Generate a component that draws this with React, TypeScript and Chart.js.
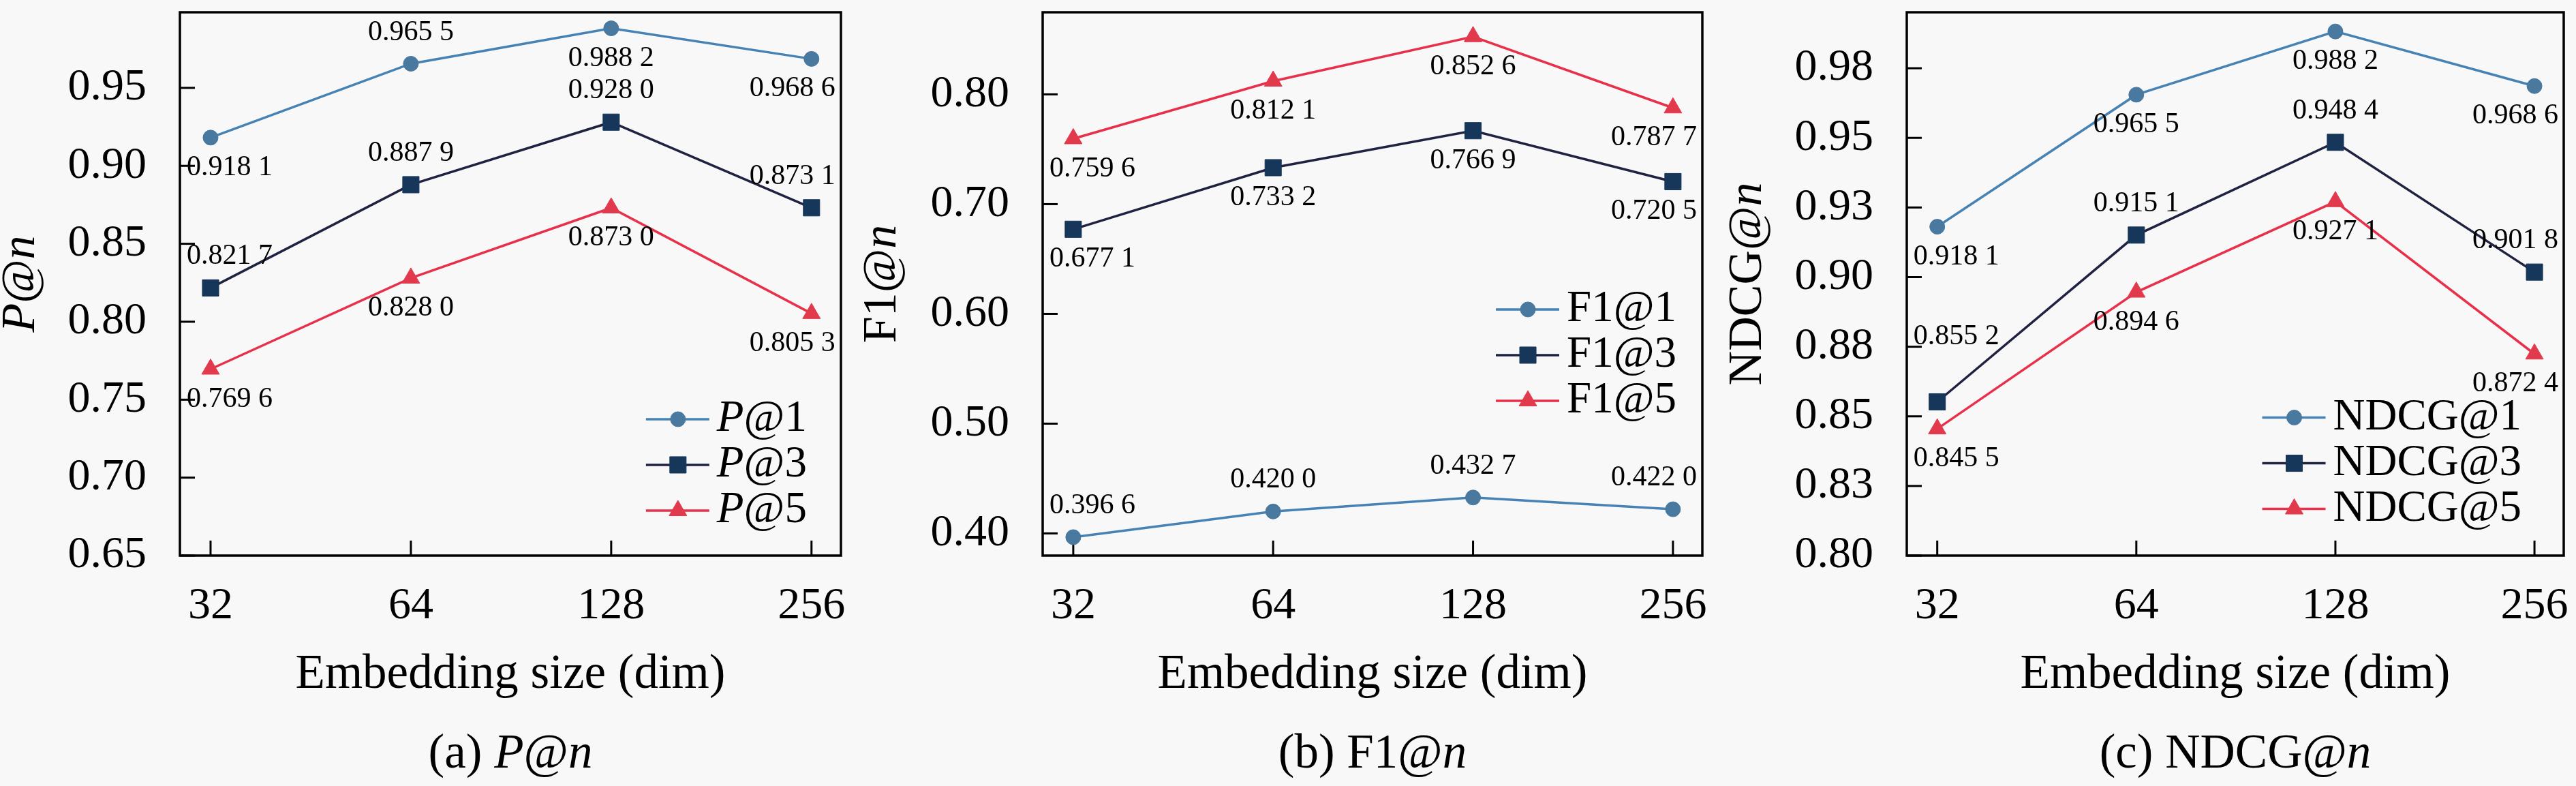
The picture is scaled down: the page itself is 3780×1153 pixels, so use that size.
import { useEffect, useRef } from "react";
import Chart from "chart.js/auto";
import { drawPoint } from "chart.js/helpers";

const dims = ["32", "64", "128", "256"];

// (a) P@n
const pAt1 = [0.9181, 0.9655, 0.9882, 0.9686];
const pAt3 = [0.8217, 0.8879, 0.928, 0.8731];
const pAt5 = [0.7696, 0.828, 0.873, 0.8053];
const pTicks = [0.65, 0.7, 0.75, 0.8, 0.85, 0.9, 0.95];

// (b) F1@n
const f1At1 = [0.3966, 0.42, 0.4327, 0.422];
const f1At3 = [0.6771, 0.7332, 0.7669, 0.7205];
const f1At5 = [0.7596, 0.8121, 0.8526, 0.7877];
const f1Ticks = [0.4, 0.5, 0.6, 0.7, 0.8];

// (c) NDCG@n
const ndcgAt1 = [0.9181, 0.9655, 0.9882, 0.9686];
const ndcgAt3 = [0.8552, 0.9151, 0.9484, 0.9018];
const ndcgAt5 = [0.8455, 0.8946, 0.9271, 0.8724];
const ndcgTicks = [0.8, 0.825, 0.85, 0.875, 0.9, 0.925, 0.95, 0.975];
const ndcgTickLabels = ["0.80", "0.83", "0.85", "0.88", "0.90", "0.93", "0.95", "0.98"];

// where each value label sits: a = above, b = below, A = well above
const pPlace = [["b", "a", "b", "b"], ["a", "a", "a", "a"], ["b", "b", "b", "b"]];
const f1Place = [["a", "a", "a", "a"], ["b", "b", "b", "b"], ["b", "b", "b", "b"]];
const ndcgPlace = [["b", "b", "b", "b"], ["A", "a", "a", "a"], ["b", "b", "b", "b"]];

const SERIF = "'Liberation Serif'";
const lineColors = ["#4682b4", "#1f2240", "#e8304a"];
const markerColors = ["#4a79a0", "#16365a", "#e23a4d"];
const markers = ["circle", "rect", "triangle"];
const markerRadius = [11, 17, 15];

type Part = { t: string; i?: boolean };

function fontOf(p: Part, size: number) {
  return `${p.i ? "italic " : ""}${size}px ${SERIF}`;
}

function richWidth(ctx: CanvasRenderingContext2D, parts: Part[], size: number) {
  let w = 0;
  for (const p of parts) {
    ctx.font = fontOf(p, size);
    w += ctx.measureText(p.t).width;
  }
  return w;
}

function drawRich(ctx: CanvasRenderingContext2D, parts: Part[], x: number, y: number, size: number) {
  let cx = x - richWidth(ctx, parts, size) / 2;
  ctx.textAlign = "left";
  ctx.textBaseline = "middle";
  for (const p of parts) {
    ctx.font = fontOf(p, size);
    ctx.fillText(p.t, cx, y);
    cx += ctx.measureText(p.t).width;
  }
}

function fmt(v: number) {
  const s = v.toFixed(4);
  return s.slice(0, 5) + " " + s.slice(5);
}

interface PanelCfg {
  series: number[][];
  places: string[][];
  names: Part[][];
  yTicks: number[];
  yLabels?: string[];
  yMin: number;
  yMax: number;
  yTitle: Part[];
  caption: Part[];
  left: number;
  padRight: number;
  yTitleX: number;
  legendX: number;
  legendY: number;
}

const italicP = (suffix: string): Part[] => [{ t: "P", i: true }, { t: "@" + suffix }];

const panels: PanelCfg[] = [
  {
    series: [pAt1, pAt3, pAt5],
    places: pPlace,
    names: [italicP("1"), italicP("3"), italicP("5")],
    yTicks: pTicks,
    yMin: 0.65,
    yMax: 0.9985,
    yTitle: [{ t: "P", i: true }, { t: "@" }, { t: "n", i: true }],
    caption: [{ t: "(a) " }, { t: "P", i: true }, { t: "@" }, { t: "n", i: true }],
    left: 264,
    padRight: 26,
    yTitleX: 32,
    legendX: 0.705,
    legendY: 0.749,
  },
  {
    series: [f1At1, f1At3, f1At5],
    places: f1Place,
    names: [[{ t: "F1@1" }], [{ t: "F1@3" }], [{ t: "F1@5" }]],
    yTicks: f1Ticks,
    yMin: 0.3798,
    yMax: 0.8748,
    yTitle: [{ t: "F1@" }, { t: "n", i: true }],
    caption: [{ t: "(b) F1@" }, { t: "n", i: true }],
    left: 270,
    padRight: 22,
    yTitleX: 36,
    legendX: 0.687,
    legendY: 0.547,
  },
  {
    series: [ndcgAt1, ndcgAt3, ndcgAt5],
    places: ndcgPlace,
    names: [[{ t: "NDCG@1" }], [{ t: "NDCG@3" }], [{ t: "NDCG@5" }]],
    yTicks: ndcgTicks,
    yLabels: ndcgTickLabels,
    yMin: 0.8,
    yMax: 0.9951,
    yTitle: [{ t: "NDCG@" }, { t: "n", i: true }],
    caption: [{ t: "(c) NDCG@" }, { t: "n", i: true }],
    left: 278,
    padRight: 13,
    yTitleX: 46,
    legendX: 0.541,
    legendY: 0.746,
  },
];

function Panel({ cfg }: { cfg: PanelCfg }) {
  const ref = useRef<HTMLCanvasElement | null>(null);

  useEffect(() => {
    if (!ref.current) return;
    const ctx = ref.current.getContext("2d");
    if (!ctx) return;

    const decor = {
      id: "decor",
      beforeDatasetsDraw(chart: Chart) {
        const c = chart.ctx;
        const { left, right, top, bottom } = chart.chartArea;
        c.save();
        c.strokeStyle = "#000";
        c.lineWidth = 3;
        for (const t of chart.scales.y.ticks) {
          const py = chart.scales.y.getPixelForValue(t.value);
          c.beginPath();
          c.moveTo(left, py);
          c.lineTo(left + 22, py);
          c.stroke();
        }
        for (const t of chart.scales.x.ticks) {
          const px = chart.scales.x.getPixelForValue(t.value);
          c.beginPath();
          c.moveTo(px, bottom);
          c.lineTo(px, bottom - 22);
          c.stroke();
        }
        c.lineWidth = 3.5;
        c.strokeRect(left, top, right - left, bottom - top);
        c.restore();
      },
      afterDatasetsDraw(chart: Chart) {
        const c = chart.ctx;
        const { left, right, top, bottom } = chart.chartArea;
        c.save();
        c.fillStyle = "#000";
        // value labels
        c.font = `42px ${SERIF}`;
        c.textAlign = "center";
        c.textBaseline = "middle";
        cfg.series.forEach((vals, si) => {
          const meta = chart.getDatasetMeta(si);
          meta.data.forEach((el, i) => {
            const code = cfg.places[si][i];
            const dy = code === "A" ? -96 : code === "a" ? -46 : 44;
            const dx = i === 0 ? 28 : i === vals.length - 1 ? -28 : 0;
            c.fillText(fmt(vals[i]), el.x + dx, el.y + dy);
          });
        });
        // legend
        const lx = left + cfg.legendX * (right - left);
        const ly0 = top + cfg.legendY * (bottom - top);
        cfg.names.forEach((name, si) => {
          const ly = ly0 + si * 67;
          c.strokeStyle = lineColors[si];
          c.lineWidth = 3.5;
          c.beginPath();
          c.moveTo(lx, ly);
          c.lineTo(lx + 93, ly);
          c.stroke();
          c.fillStyle = markerColors[si];
          c.strokeStyle = markerColors[si];
          c.lineWidth = 1;
          drawPoint(c, { pointStyle: markers[si] as any, radius: markerRadius[si], rotation: 0, borderWidth: 1 }, lx + 47, ly);
          c.fillStyle = "#000";
          const w = richWidth(c, name, 65);
          drawRich(c, name, lx + 104 + w / 2, ly, 65);
        });
        // titles
        c.fillStyle = "#000";
        const cx = (left + right) / 2;
        drawRich(c, [{ t: "Embedding size (dim)" }], cx, 990, 71);
        drawRich(c, cfg.caption, cx, 1107, 71);
        c.save();
        c.translate(cfg.yTitleX, (top + bottom) / 2);
        c.rotate(-Math.PI / 2);
        drawRich(c, cfg.yTitle, 0, 0, 70);
        c.restore();
        c.restore();
      },
    };

    const chart = new Chart(ctx, {
      type: "line",
      data: {
        datasets: cfg.series.map((vals, si) => ({
          label: cfg.names[si].map((p) => p.t).join(""),
          data: vals.map((v, i) => ({ x: i, y: v })),
          borderColor: lineColors[si],
          borderWidth: 3.5,
          backgroundColor: markerColors[si],
          pointBackgroundColor: markerColors[si],
          pointBorderColor: markerColors[si],
          pointBorderWidth: 1,
          pointStyle: markers[si] as any,
          pointRadius: markerRadius[si],
          tension: 0,
          fill: false,
          clip: false as any,
        })),
      },
      options: {
        animation: false,
        responsive: false,
        devicePixelRatio: 1,
        layout: { padding: { top: 9, right: cfg.padRight, left: 0, bottom: 0 } },
        plugins: { legend: { display: false }, tooltip: { enabled: false } },
        scales: {
          x: {
            type: "linear",
            min: -0.153,
            max: 3.147,
            grid: { display: false, drawTicks: false },
            border: { display: false },
            afterBuildTicks: (s: any) => {
              s.ticks = dims.map((_, i) => ({ value: i }));
            },
            afterFit: (s: any) => {
              s.height = 338;
              s.paddingLeft = 0;
              s.paddingRight = 0;
            },
            ticks: {
              padding: 35,
              color: "#000",
              font: { family: SERIF, size: 66 },
              maxRotation: 0,
              autoSkip: false,
              callback: (v: any) => dims[Math.round(Number(v))] ?? "",
            },
          },
          y: {
            type: "linear",
            min: cfg.yMin,
            max: cfg.yMax,
            grid: { display: false, drawTicks: false },
            border: { display: false },
            afterBuildTicks: (s: any) => {
              s.ticks = cfg.yTicks.map((v) => ({ value: v }));
            },
            afterFit: (s: any) => {
              s.width = cfg.left;
              s.paddingTop = 0;
              s.paddingBottom = 0;
            },
            ticks: {
              padding: 49,
              color: "#000",
              font: { family: SERIF, size: 66 },
              autoSkip: false,
              callback: (v: any, i: number) =>
                cfg.yLabels ? cfg.yLabels[i] : Number(v).toFixed(2),
            },
          },
        },
      },
      plugins: [decor],
    });

    // the serif face may arrive after the first draw; redraw once it is ready
    let alive = true;
    Promise.all([
      document.fonts.load(`66px ${SERIF}`),
      document.fonts.load(`italic 66px ${SERIF}`),
    ]).then(() => {
      if (alive) chart.update("none");
    });

    return () => {
      alive = false;
      chart.destroy();
    };
  }, [cfg]);

  return (
    <canvas
      ref={ref}
      width={1260}
      height={1153}
      style={{ display: "block", width: 1260, height: 1153 }}
    ></canvas>
  );
}

export default function App() {
  useEffect(() => {
    document.body.style.margin = "0";
    document.body.style.background = "#f8f8f8";
  }, []);

  return (
    <div
      style={{
        position: "relative",
        display: "flex",
        width: 3780,
        height: 1153,
        background: "#f8f8f8",
        fontFamily: "'Liberation Serif'",
      }}
    >
      <span style={{ position: "absolute", left: 0, top: 0, opacity: 0, fontSize: 20 }}>
        0.95 <i>P@n</i>
      </span>
      {panels.map((cfg, i) => (
        <Panel key={i} cfg={cfg} />
      ))}
    </div>
  );
}
